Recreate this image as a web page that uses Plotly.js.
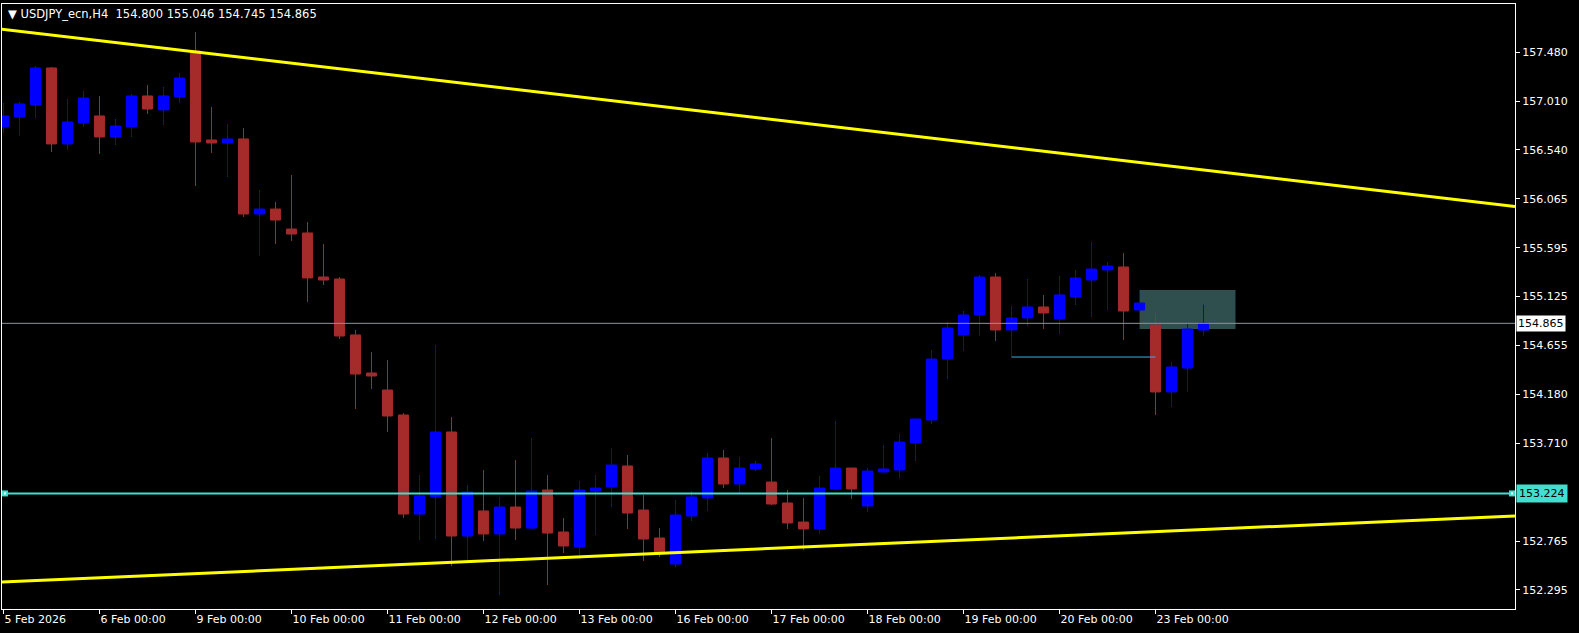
<!DOCTYPE html>
<html>
<head>
<meta charset="utf-8">
<script src="https://cdn.plot.ly/plotly-3.0.1.min.js"></script>
<style>
  html, body { margin: 0; padding: 0; background: #000; }
  #chart { width: 1579px; height: 633px; }
</style>
</head>
<body>
<div id="chart"></div>
<script>
// ---- Data (USDJPY_ecn, H4) ----
const open  = [156.760,156.856,156.972,157.329,156.596,156.798,156.866,156.663,156.760,157.059,
               156.924,157.049,157.493,156.634,156.605,156.644,155.920,155.968,155.775,155.737,
               155.312,155.293,154.753,154.386,154.222,153.981,153.025,153.190,153.817,152.813,
               153.055,152.833,153.093,152.890,153.257,152.852,152.707,153.247,153.286,153.489,
               153.064,152.794,152.543,153.006,153.180,153.566,153.315,153.460,153.334,153.132,
               152.948,152.881,153.267,153.469,153.103,153.431,153.450,153.711,153.932,154.521,
               154.753,154.946,155.312,154.801,154.917,155.023,154.907,155.119,155.283,155.380,
               155.409,154.994,154.849,154.203,154.434,154.800];
const high  = [156.991,157.001,157.348,157.339,157.030,157.107,157.059,156.837,157.078,157.165,
               157.146,157.281,157.676,156.953,156.789,156.750,156.152,156.036,156.296,155.843,
               155.631,155.312,154.801,154.589,154.511,153.999,153.402,154.656,153.961,153.305,
               153.450,153.190,153.547,153.759,153.402,152.987,153.344,153.402,153.662,153.595,
               153.209,152.890,153.161,153.247,153.614,153.643,153.575,153.537,153.759,153.257,
               153.180,153.392,153.923,153.472,153.469,153.691,153.797,153.945,154.608,154.878,
               154.984,155.332,155.351,155.032,155.293,155.139,155.322,155.380,155.650,155.457,
               155.544,155.187,154.965,154.492,154.868,155.046];
const low   = [156.702,156.673,156.846,156.518,156.538,156.760,156.499,156.586,156.663,156.885,
               156.779,156.991,156.190,156.509,156.277,155.891,155.515,155.631,155.660,155.071,
               155.235,154.714,154.039,154.232,153.817,152.987,152.775,152.784,152.524,152.562,
               152.765,152.244,152.775,152.881,152.340,152.649,152.591,152.823,153.093,152.881,
               152.572,152.611,152.514,152.958,153.054,153.276,153.218,153.440,153.112,152.881,
               152.678,152.833,153.257,153.170,153.045,153.425,153.373,153.537,153.894,154.328,
               154.598,154.743,154.695,154.540,154.840,154.811,154.762,155.042,154.926,154.994,
               154.704,154.811,153.981,154.058,154.203,154.745];
const close = [156.866,156.982,157.329,156.596,156.808,157.039,156.663,156.769,157.059,156.933,
               157.059,157.232,156.615,156.605,156.644,155.920,155.968,155.862,155.727,155.303,
               155.283,154.743,154.376,154.357,153.971,153.025,153.199,153.817,152.813,153.238,
               152.833,153.093,152.890,153.247,152.842,152.717,153.257,153.276,153.498,153.035,
               152.784,152.659,153.016,153.190,153.566,153.315,153.469,153.508,153.122,152.939,
               152.881,153.276,153.469,153.267,153.440,153.460,153.720,153.942,154.521,154.820,
               154.946,155.312,154.801,154.917,155.023,154.965,155.139,155.303,155.389,155.418,
               154.984,155.061,154.203,154.444,154.810,154.865];

// x-axis tick labels (bar index -> label)
const xTickIndex  = [0, 6, 12, 18, 24, 30, 36, 42, 48, 54, 60, 66, 72];
const xTickLabels = ["5 Feb 2026","6 Feb 00:00","9 Feb 00:00","10 Feb 00:00","11 Feb 00:00",
                     "12 Feb 00:00","13 Feb 00:00","16 Feb 00:00","17 Feb 00:00","18 Feb 00:00",
                     "19 Feb 00:00","20 Feb 00:00","23 Feb 00:00"];
// y-axis price ticks
const yTickValues = [157.480,157.010,156.540,156.065,155.595,155.125,154.655,154.180,153.710,152.765,152.295];

// drawn objects
const upperTrendX = [-0.22, 94.47];
const upperTrendY = [157.705, 155.993];
const lowerTrendX = [-0.22, 94.47];
const lowerTrendY = [152.369, 153.006];
const supportLevel = 153.224;
const bidPrice = 154.865;
const boxX = [71, 77];
const boxY = [154.811, 155.187];
const shortLineX = [63, 72];
const shortLineY = [154.540, 154.540];
const symbolTitle = "USDJPY_ecn,H4";
const ohlcText = "154.800 155.046 154.745 154.865";

// ---- Chart ----
const idx = open.map((_, i) => i);
const FONT = "DejaVu Sans";
const xRange = [-0.094, 94.469];
const yRange = [152.109, 157.946];

const traces = [
  {
    type: "candlestick",
    x: idx, open: open, high: high, low: low, close: close,
    increasing: { line: { color: "#0000FF", width: 1 }, fillcolor: "#0000FF" },
    decreasing: { line: { color: "#A52A2A", width: 1 }, fillcolor: "#A52A2A" },
    whiskerwidth: 0,
    hoverinfo: "skip",
    showlegend: false
  },
  { type: "scatter", mode: "lines", x: [xRange[0] - 1, xRange[1] + 1], y: [bidPrice, bidPrice],
    line: { color: "#8c949c", width: 1 }, hoverinfo: "skip", showlegend: false },
  { type: "scatter", mode: "lines", x: [xRange[0] - 1, xRange[1] + 1], y: [supportLevel, supportLevel],
    line: { color: "#40E0D0", width: 2 }, hoverinfo: "skip", showlegend: false },
  { type: "scatter", mode: "lines", x: shortLineX, y: shortLineY,
    line: { color: "#38B0F0", width: 1 }, hoverinfo: "skip", showlegend: false },
  { type: "scatter", mode: "lines", x: upperTrendX, y: upperTrendY,
    line: { color: "#FFFF00", width: 3 }, hoverinfo: "skip", showlegend: false },
  { type: "scatter", mode: "lines", x: lowerTrendX, y: lowerTrendY,
    line: { color: "#FFFF00", width: 3 }, hoverinfo: "skip", showlegend: false },
  { type: "scatter", mode: "markers", x: [0.09, 94.28], y: [supportLevel, supportLevel],
    marker: { symbol: "square", size: 6, color: "#40E0D0" }, cliponaxis: false,
    hoverinfo: "skip", showlegend: false },
  { type: "scatter", mode: "markers", x: [0.09, 94.28], y: [supportLevel, supportLevel],
    marker: { symbol: "square", size: 2, color: "#FFFFFF" }, cliponaxis: false,
    hoverinfo: "skip", showlegend: false }
];

const layout = {
  width: 1579, height: 633,
  margin: { l: 2, r: 64, t: 4, b: 24, pad: 0 },
  paper_bgcolor: "#000000",
  plot_bgcolor: "#000000",
  font: { family: FONT, size: 11, color: "#FFFFFF" },
  showlegend: false,
  boxgap: 0.37,
  boxgroupgap: 0,
  xaxis: {
    type: "linear",
    range: xRange,
    showgrid: false, zeroline: false,
    showline: true, linecolor: "#FFFFFF", linewidth: 1, mirror: true,
    ticks: "outside", ticklen: 4, tickcolor: "#FFFFFF", tickwidth: 1,
    tickmode: "array", tickvals: xTickIndex, ticktext: xTickLabels,
    ticklabelposition: "outside right",
    tickfont: { family: FONT, size: 11, color: "#FFFFFF" },
    rangeslider: { visible: false },
    fixedrange: true
  },
  yaxis: {
    side: "right",
    range: yRange,
    showgrid: false, zeroline: false,
    showline: true, linecolor: "#FFFFFF", linewidth: 1, mirror: true,
    ticks: "outside", ticklen: 4, tickcolor: "#FFFFFF", tickwidth: 1,
    tickmode: "array", tickvals: yTickValues, ticktext: yTickValues.map(v => v.toFixed(3)),
    tickfont: { family: FONT, size: 11, color: "#FFFFFF" },
    fixedrange: true
  },
  shapes: [
    { type: "rect", xref: "x", yref: "y", x0: boxX[0], x1: boxX[1], y0: boxY[0], y1: boxY[1],
      fillcolor: "#2F4F4F", line: { width: 0 }, layer: "below" }
  ],
  annotations: [
    { xref: "paper", yref: "paper", x: 0, y: 1, xanchor: "left", yanchor: "top",
      xshift: 4, yshift: -1, showarrow: false,
      text: "▼ " + symbolTitle + "\u00a0\u00a0" + ohlcText,
      font: { family: FONT, size: 11.5, color: "#FFFFFF" } },
    { xref: "paper", yref: "y", x: 1, y: bidPrice, xanchor: "left", yanchor: "middle",
      xshift: 1, showarrow: false, text: bidPrice.toFixed(3),
      bgcolor: "#FFFFFF", borderpad: 1,
      font: { family: FONT, size: 11, color: "#000000" } },
    { xref: "paper", yref: "y", x: 1, y: supportLevel, xanchor: "left", yanchor: "middle",
      xshift: 1, showarrow: false, text: supportLevel.toFixed(3),
      bgcolor: "#40E0D0", borderpad: 2,
      font: { family: FONT, size: 11, color: "#000000" } }
  ]
};

Plotly.newPlot("chart", traces, layout, { staticPlot: true, displayModeBar: false });
</script>
</body>
</html>
